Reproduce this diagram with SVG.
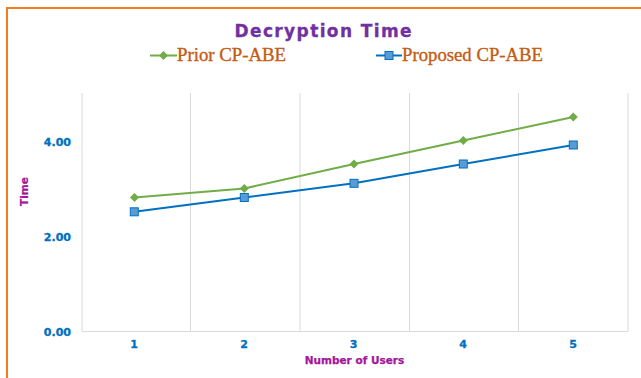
<svg xmlns="http://www.w3.org/2000/svg" width="641" height="378" viewBox="0 0 641 378">
  <style>
    .grid { stroke: #D9D9D9; stroke-width: 1; fill: none; }
    .tick { font-family: "DejaVu Sans", sans-serif; font-weight: bold; font-size: 11px; fill: #0070C0; stroke: #0070C0; stroke-width: 0.3; }
    .axis-title { font-family: "DejaVu Sans", sans-serif; font-weight: bold; font-size: 10.5px; fill: #A3159B; stroke: #A3159B; stroke-width: 0.25; }
    .legend { font-family: "Liberation Serif", serif; font-size: 19px; fill: #C55A11; stroke: #C55A11; stroke-width: 0.35; }
    .prior { stroke: #70AD47; stroke-width: 2; fill: none; }
    .proposed { stroke: #0070C0; stroke-width: 2; fill: none; }
  </style>
  <defs>
    <path id="diamond" d="M0,-4.5 L4.5,0 L0,4.5 L-4.5,0 Z" fill="#70AD47"/>
    <rect id="square" x="-4" y="-4" width="8" height="8" fill="#5B9BD5" stroke="#0070C0" stroke-width="1"/>
  </defs>

  <rect width="641" height="378" fill="#FFFFFF"/>
  <!-- chart frame -->
  <rect x="7" y="8" width="650" height="390" fill="none" stroke="#F47B20" stroke-width="2"/>

  <!-- title -->
  <text x="323" y="37" text-anchor="middle" font-family="DejaVu Sans, sans-serif" font-weight="bold" font-size="17" fill="#7030A0" stroke="#7030A0" stroke-width="0.3" textLength="177" lengthAdjust="spacing">Decryption Time</text>

  <!-- legend -->
  <g id="legend-prior">
    <line x1="150" y1="55.5" x2="177" y2="55.5" class="prior"/>
    <use href="#diamond" x="163.5" y="55.5"/>
    <text x="177" y="61" class="legend" textLength="109" lengthAdjust="spacingAndGlyphs">Prior CP-ABE</text>
  </g>
  <g id="legend-proposed">
    <line x1="376" y1="55.5" x2="402" y2="55.5" class="proposed"/>
    <use href="#square" x="389" y="55.5"/>
    <text x="402" y="61" class="legend" textLength="141" lengthAdjust="spacingAndGlyphs">Proposed CP-ABE</text>
  </g>

  <!-- plot area grid -->
  <g id="grid">
    <line x1="82" y1="93" x2="82" y2="331.5" class="grid"/>
    <line x1="190.5" y1="93" x2="190.5" y2="331.5" class="grid"/>
    <line x1="300" y1="93" x2="300" y2="331.5" class="grid"/>
    <line x1="409.5" y1="93" x2="409.5" y2="331.5" class="grid"/>
    <line x1="518.5" y1="93" x2="518.5" y2="331.5" class="grid"/>
    <line x1="628" y1="93" x2="628" y2="331.5" class="grid"/>
    <line x1="82" y1="331.5" x2="628" y2="331.5" class="grid"/>
  </g>

  <!-- y axis -->
  <g id="y-axis">
    <text x="71" y="145.5" text-anchor="end" class="tick">4.00</text>
    <text x="71" y="240.5" text-anchor="end" class="tick">2.00</text>
    <text x="71" y="335.5" text-anchor="end" class="tick">0.00</text>
    <text transform="translate(27.5,191.5) rotate(-90)" text-anchor="middle" class="axis-title">Time</text>
  </g>

  <!-- x axis -->
  <g id="x-axis">
    <text x="134" y="348" text-anchor="middle" class="tick" font-size="10">1</text>
    <text x="244" y="348" text-anchor="middle" class="tick" font-size="10">2</text>
    <text x="353.5" y="348" text-anchor="middle" class="tick" font-size="10">3</text>
    <text x="463" y="348" text-anchor="middle" class="tick" font-size="10">4</text>
    <text x="573" y="348" text-anchor="middle" class="tick" font-size="10">5</text>
    <text x="354.5" y="364" text-anchor="middle" class="axis-title">Number of Users</text>
  </g>

  <!-- data series -->
  <g id="connectors">
    <polyline id="series-prior" class="prior" points="134.5,197.5 244.3,188.5 354,164 463.3,140.5 573.3,117"/>
    <polyline id="series-proposed" class="proposed" points="134.3,211.8 244.3,197.5 354,183.3 463.3,164 573.3,145"/>
  </g>
  <g id="markers-prior">
    <use href="#diamond" x="134.5" y="197.5"/>
    <use href="#diamond" x="244.3" y="188.5"/>
    <use href="#diamond" x="354" y="164"/>
    <use href="#diamond" x="463.3" y="140.5"/>
    <use href="#diamond" x="573.3" y="117"/>
  </g>
  <g id="markers-proposed">
    <use href="#square" x="134.3" y="211.8"/>
    <use href="#square" x="244.3" y="197.5"/>
    <use href="#square" x="354" y="183.3"/>
    <use href="#square" x="463.3" y="164"/>
    <use href="#square" x="573.3" y="145"/>
  </g>
</svg>
